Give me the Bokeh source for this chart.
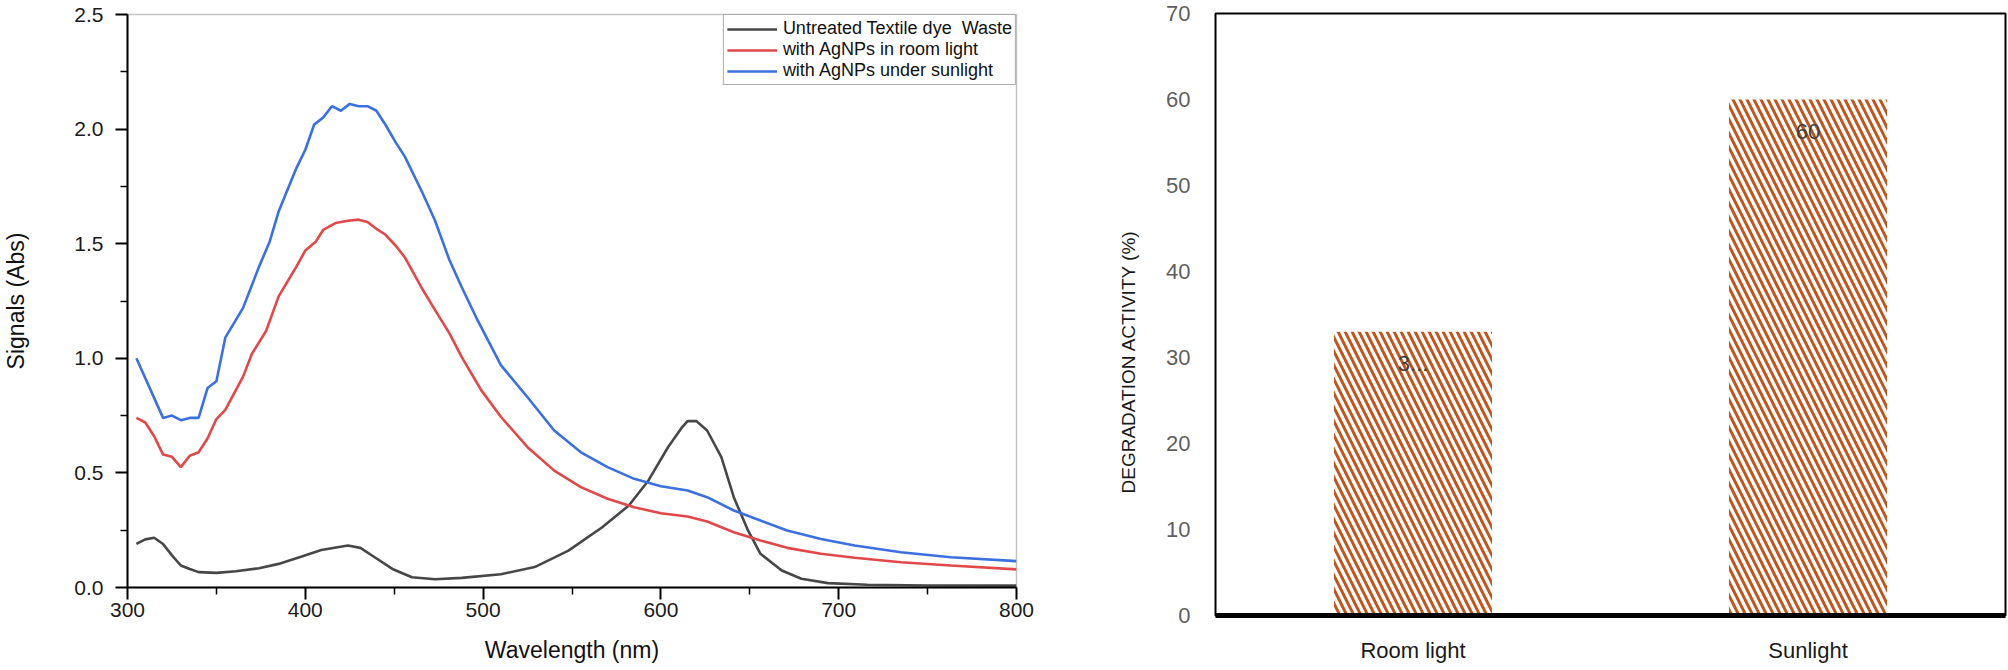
from bokeh.plotting import figure
from bokeh.layouts import row, column
from bokeh.models import (Range1d, FixedTicker, Legend, LegendItem, ColumnDataSource,
                          LabelSet, FactorRange, Title, NumeralTickFormatter)
from bokeh.core.properties import value
from bokeh.embed import file_html
from bokeh.resources import INLINE

FONT = "Liberation Sans"

# ---------------- data: UV-Vis spectra ----------------
untreated_wl = [305, 310, 315, 320, 325, 330, 335, 340, 350, 361, 374, 385, 398, 409, 424, 431,
                439, 449, 460, 473, 488, 510, 529, 548, 567, 582, 593, 604, 612, 615, 620, 626,
                634, 641, 649, 656, 668, 679, 694, 716, 750, 800]
untreated_abs = [0.19, 0.21, 0.217, 0.19, 0.14, 0.096, 0.081, 0.067, 0.064, 0.071, 0.084, 0.103,
                 0.135, 0.164, 0.183, 0.173, 0.132, 0.081, 0.045, 0.036, 0.042, 0.058, 0.089,
                 0.161, 0.263, 0.358, 0.467, 0.612, 0.70, 0.726, 0.726, 0.685, 0.569, 0.394,
                 0.249, 0.147, 0.074, 0.038, 0.019, 0.012, 0.009, 0.008]

room_wl = [305, 310, 315, 320, 325, 330, 335, 340, 345, 350, 355, 365, 370, 378, 385, 395, 400,
           406, 410, 417, 424, 430, 435, 440, 445, 451, 456, 466, 473, 481, 488, 499, 510, 525,
           540, 555, 570, 585, 600, 615, 626, 641, 656, 671, 690, 709, 735, 763, 800]
room_abs = [0.74, 0.72, 0.66, 0.58, 0.57, 0.525, 0.575, 0.59, 0.65, 0.735, 0.775, 0.92, 1.02,
            1.12, 1.27, 1.40, 1.47, 1.51, 1.56, 1.59, 1.60, 1.605, 1.595, 1.565, 1.54, 1.49,
            1.44, 1.30, 1.21, 1.11, 1.005, 0.86, 0.745, 0.612, 0.51, 0.438, 0.387, 0.35, 0.324,
            0.31, 0.288, 0.241, 0.205, 0.173, 0.147, 0.13, 0.11, 0.096, 0.079]

sun_wl = [305, 320, 325, 330, 335, 340, 345, 350, 355, 365, 374, 380, 385, 395, 400, 405, 410,
          415, 420, 425, 430, 435, 440, 445, 451, 456, 466, 473, 481, 488, 496, 510, 525, 540,
          555, 570, 585, 600, 615, 626, 641, 656, 671, 690, 709, 735, 763, 800]
sun_abs = [1.00, 0.74, 0.75, 0.73, 0.74, 0.74, 0.87, 0.90, 1.09, 1.22, 1.40, 1.51, 1.64, 1.83,
           1.91, 2.02, 2.05, 2.10, 2.08, 2.11, 2.10, 2.10, 2.08, 2.02, 1.94, 1.88, 1.72, 1.60,
           1.43, 1.31, 1.18, 0.97, 0.83, 0.685, 0.59, 0.525, 0.474, 0.442, 0.423, 0.394, 0.336,
           0.292, 0.249, 0.212, 0.183, 0.154, 0.132, 0.115]

series_labels = ["Untreated Textile dye  Waste", "with AgNPs in room light",
                 "with AgNPs under sunlight"]
x_ticks = [300, 400, 500, 600, 700, 800]
x_minor = [350, 450, 550, 650, 750]
y_ticks = [0.0, 0.5, 1.0, 1.5, 2.0, 2.5]
y_minor = [0.25, 0.75, 1.25, 1.75, 2.25]

# ---------------- data: degradation bars ----------------
categories = ["Room light", "Sunlight"]
degradation = [33, 60]
bar_labels = ["3...", "60"]
y2_ticks = [0, 10, 20, 30, 40, 50, 60, 70]

# ---------------- left figure ----------------
p1 = figure(width=1070, height=668, output_backend="svg", toolbar_location=None,
            x_range=Range1d(300, 800), y_range=Range1d(0, 2.5),
            min_border_left=125, min_border_right=54, min_border_top=14, min_border_bottom=81)
p1.xgrid.visible = False
p1.ygrid.visible = False
p1.outline_line_color = "#c4c4c4"
p1.outline_line_width = 1.5
p1.background_fill_color = "white"

r_u = p1.line(untreated_wl, untreated_abs, line_color="#474747", line_width=2.6)
r_r = p1.line(room_wl, room_abs, line_color="#E1484A", line_width=2.6)
r_s = p1.line(sun_wl, sun_abs, line_color="#3C6FE0", line_width=2.6)

for ax in (p1.xaxis[0], p1.yaxis[0]):
    ax.axis_line_color = "black"
    ax.axis_line_width = 2
    ax.major_tick_line_color = "black"
    ax.minor_tick_line_color = "black"
    ax.major_tick_line_width = 2
    ax.minor_tick_line_width = 1.5
    ax.major_tick_in = 0
    ax.major_tick_out = 12
    ax.minor_tick_in = 0
    ax.minor_tick_out = 7
    ax.major_label_text_font = FONT
    ax.major_label_text_color = "#1a1a1a"
    ax.axis_label_text_font = FONT
    ax.axis_label_text_font_style = "normal"
    ax.axis_label_text_color = "#111111"
    ax.axis_label_text_font_size = "23px"

p1.xaxis[0].ticker = FixedTicker(ticks=x_ticks, minor_ticks=x_minor)
p1.yaxis[0].ticker = FixedTicker(ticks=y_ticks, minor_ticks=y_minor)
p1.yaxis[0].formatter = NumeralTickFormatter(format="0.0")
p1.xaxis[0].major_label_text_font_size = "21px"
p1.yaxis[0].major_label_text_font_size = "21px"
p1.xaxis[0].major_label_standoff = 3
p1.yaxis[0].major_label_standoff = 12
p1.xaxis[0].axis_label = "Wavelength (nm)"
p1.yaxis[0].axis_label = "Signals (Abs)"
p1.xaxis[0].axis_label_standoff = 17
p1.yaxis[0].axis_label_standoff = 42

legend = Legend(items=[LegendItem(label=series_labels[0], renderers=[r_u]),
                       LegendItem(label=series_labels[1], renderers=[r_r]),
                       LegendItem(label=series_labels[2], renderers=[r_s])],
                location="top_right", margin=0, padding=3, spacing=0,
                glyph_width=50, glyph_height=20, label_height=20, label_standoff=6,
                label_text_font=FONT, label_text_font_size="18px", label_text_color="#111111",
                border_line_color="#5a5a5a", border_line_width=1.5,
                background_fill_color="white", background_fill_alpha=1.0)
p1.add_layout(legend)

# ---------------- right figure ----------------
p2 = figure(width=938, height=668, output_backend="svg", toolbar_location=None,
            x_range=FactorRange(factors=categories), y_range=Range1d(0, 70),
            min_border_left=145, min_border_right=3, min_border_top=13, min_border_bottom=53)
p2.xgrid.visible = False
p2.ygrid.visible = False
p2.outline_line_color = "black"
p2.outline_line_width = 2

p2.vbar(x=categories, top=degradation, width=0.4, fill_alpha=0, line_color=None,
        hatch_pattern="\\", hatch_color="#C0561E", hatch_scale=14, hatch_weight=3)

src = ColumnDataSource(dict(x=categories, y=degradation, t=bar_labels))
p2.add_layout(LabelSet(x="x", y="y", text="t", source=src, y_offset=-32,
                       text_align="center", text_baseline="middle",
                       text_font=value(FONT), text_font_size=value("22px"),
                       text_color="#404040"))

ya = p2.yaxis[0]
ya.ticker = FixedTicker(ticks=y2_ticks)
ya.axis_line_color = None
ya.major_tick_line_color = None
ya.minor_tick_line_color = None
ya.major_tick_out = 0
ya.major_tick_in = 0
ya.minor_tick_out = 0
ya.minor_tick_in = 0
ya.major_label_standoff = 25
ya.major_label_text_font = FONT
ya.major_label_text_font_size = "22px"
ya.major_label_text_color = "#5f5f5f"

xa = p2.xaxis[0]
xa.axis_line_color = "black"
xa.axis_line_width = 5
xa.major_tick_line_color = None
xa.minor_tick_line_color = None
xa.major_tick_out = 0
xa.major_tick_in = 0
xa.minor_tick_out = 0
xa.minor_tick_in = 0
xa.major_label_standoff = 22
xa.major_label_text_font = FONT
xa.major_label_text_font_size = "22px"
xa.major_label_text_color = "#1a1a1a"

p2.add_layout(Title(text="DEGRADATION ACTIVITY (%)", align="left", offset=122, standoff=50,
                    text_font=FONT, text_font_size="19px", text_font_style="normal",
                    text_color="#1a1a1a"), "left")

layout = row(column(p1), column(p2))
open("out.html", "w").write(file_html(layout, INLINE))
